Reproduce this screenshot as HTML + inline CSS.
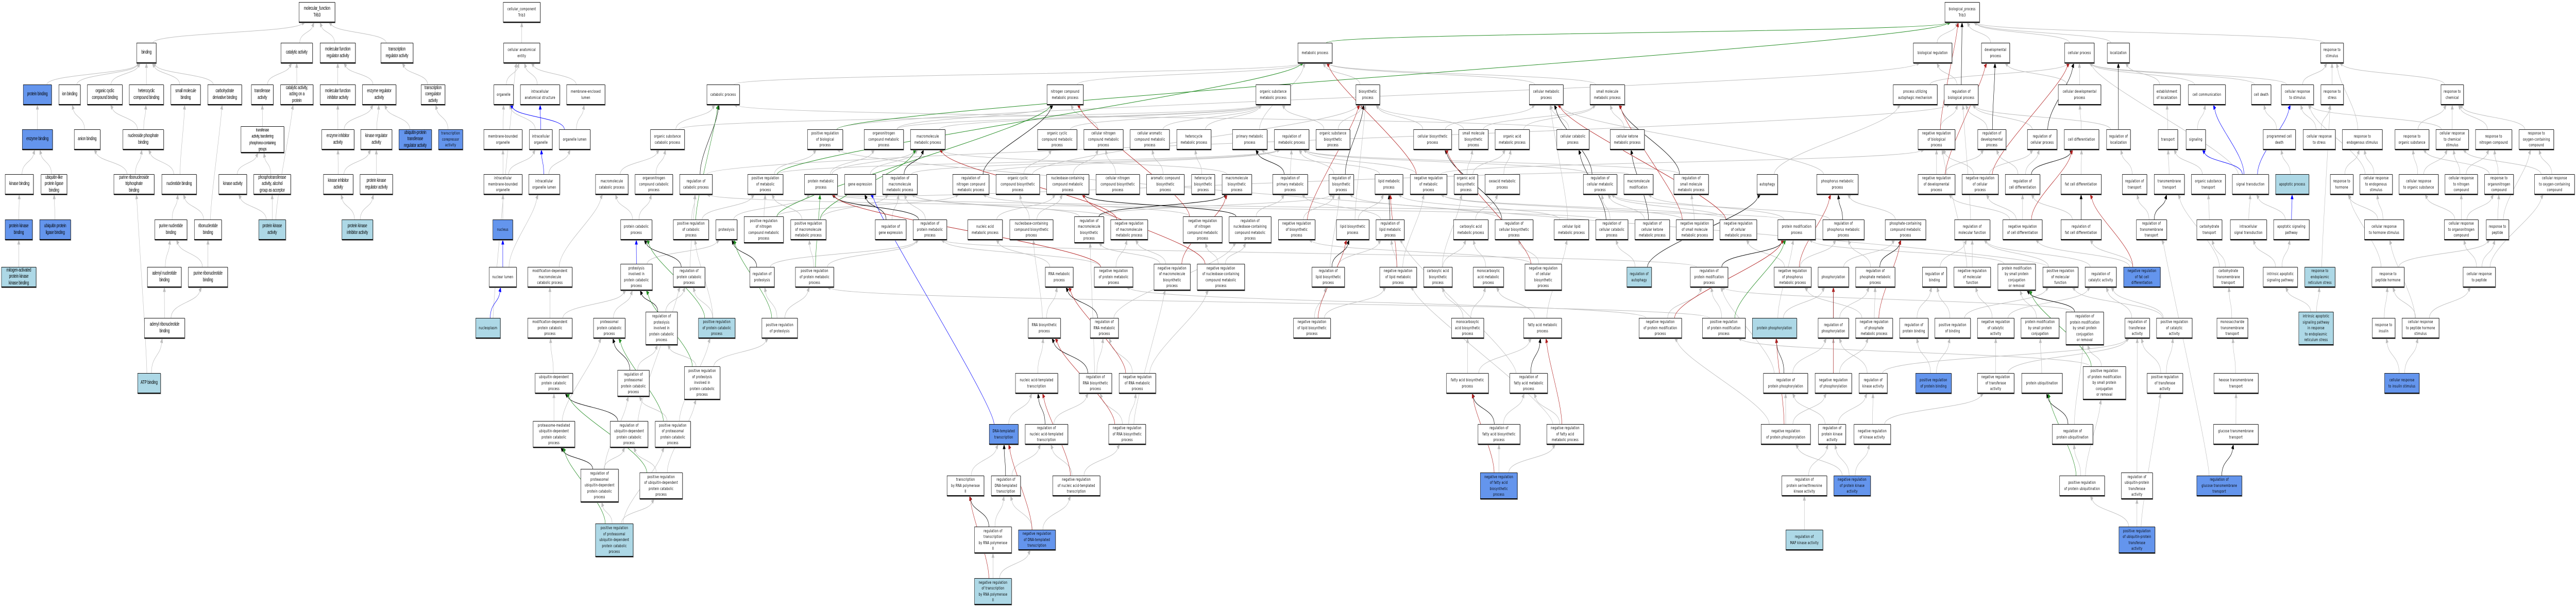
<!DOCTYPE html>
<html><head><meta charset="utf-8">
<style>
html,body{margin:0;padding:0;background:#fff;overflow:hidden;}
#w{position:relative;width:7680px;height:1178px;overflow:hidden;background:#fff;transform-origin:0 0;}
svg{position:absolute;left:0;top:0;overflow:hidden;}
.n{position:absolute;box-sizing:border-box;border:1px solid #111;border-bottom-width:2px;box-shadow:1px 1px 0 #888;background:#fff;
font:8px/11.5px "DejaVu Sans",sans-serif;letter-spacing:0.4px;text-align:center;display:flex;align-items:center;justify-content:center;white-space:nowrap;overflow:hidden;height:40px;color:#000;}
.mf{font:10px/12.5px "Liberation Sans",sans-serif;letter-spacing:-0.3px;}
.b{background:#6495ED;}
.lb{background:#ADD8E6;}
.h4{height:52px;}
.h5{height:65px;}
</style></head><body><div id="w">
<svg id="s" width="7680" height="1178" viewBox="0 0 7680 1178"></svg>
<!-- MF -->
<div class="n mf" id="mf" style="left:891px;top:4px;width:108px">molecular_function<br>Trib3</div>
<div class="n mf" id="binding" style="left:407px;top:83px;width:59px">binding</div>
<div class="n mf" id="catal" style="left:837px;top:83px;width:95px">catalytic activity</div>
<div class="n mf" id="mfreg" style="left:954px;top:83px;width:106px">molecular function<br>regulator activity</div>
<div class="n mf" id="treg" style="left:1135px;top:83px;width:97px">transcription<br>regulator activity</div>
<div class="n mf b" id="pb" style="left:69px;top:164px;width:85px">protein binding</div>
<div class="n mf" id="ionb" style="left:175px;top:164px;width:65px">ion binding</div>
<div class="n mf" id="occb" style="left:260px;top:164px;width:105px">organic cyclic<br>compound binding</div>
<div class="n mf" id="hcb" style="left:385px;top:164px;width:103px">heterocyclic<br>compound binding</div>
<div class="n mf" id="smb" style="left:509px;top:164px;width:89px">small molecule<br>binding</div>
<div class="n mf" id="cdb" style="left:619px;top:164px;width:102px">carbohydrate<br>derivative binding</div>
<div class="n mf" id="transf" style="left:749px;top:164px;width:66px">transferase<br>activity</div>
<div class="n mf" id="catp" style="left:836px;top:164px;width:98px">catalytic activity,<br>acting on a<br>protein</div>
<div class="n mf" id="mfinh" style="left:954px;top:164px;width:106px">molecular function<br>inhibitor activity</div>
<div class="n mf" id="enzreg" style="left:1080px;top:164px;width:101px">enzyme regulator<br>activity</div>
<div class="n mf" id="tcoreg" style="left:1255px;top:164px;width:72px">transcription<br>coregulator<br>activity</div>
<div class="n mf b" id="enzb" style="left:66px;top:251px;width:91px">enzyme binding</div>
<div class="n mf" id="anb" style="left:221px;top:251px;width:78px">anion binding</div>
<div class="n mf" id="npb" style="left:366px;top:251px;width:122px">nucleoside phosphate<br>binding</div>
<div class="n mf h4" id="tptp" style="left:718px;top:245px;width:129px">transferase<br>activity, transferring<br>phosphorus-containing<br>groups</div>
<div class="n mf" id="enzinh" style="left:959px;top:251px;width:97px">enzyme inhibitor<br>activity</div>
<div class="n mf" id="kinreg" style="left:1075px;top:251px;width:94px">kinase regulator<br>activity</div>
<div class="n mf b" id="uptr" style="left:1189px;top:251px;width:98px">ubiquitin-protein<br>transferase<br>regulator activity</div>
<div class="n b" id="tcorep" style="left:1307px;top:251px;width:73px">transcription<br>corepressor<br>activity</div>
<div class="n mf" id="kinb" style="left:15px;top:338px;width:85px">kinase binding</div>
<div class="n mf" id="ulplb" style="left:122px;top:338px;width:78px">ubiquitin-like<br>protein ligase<br>binding</div>
<div class="n mf" id="prtpb" style="left:339px;top:338px;width:121px">purine ribonucleoside<br>triphosphate<br>binding</div>
<div class="n mf" id="nucb" style="left:482px;top:338px;width:104px">nucleotide binding</div>
<div class="n mf" id="kina" style="left:652px;top:338px;width:84px">kinase activity</div>
<div class="n mf" id="phtr" style="left:756px;top:338px;width:111px">phosphotransferase<br>activity, alcohol<br>group as acceptor</div>
<div class="n mf" id="kininh" style="left:964px;top:338px;width:89px">kinase inhibitor<br>activity</div>
<div class="n mf" id="pkreg" style="left:1073px;top:338px;width:98px">protein kinase<br>regulator activity</div>
<div class="n mf b" id="pkb" style="left:15px;top:426px;width:82px">protein kinase<br>binding</div>
<div class="n mf b" id="uplb" style="left:118px;top:426px;width:93px">ubiquitin protein<br>ligase binding</div>
<div class="n mf" id="pnb" style="left:461px;top:426px;width:97px">purine nucleotide<br>binding</div>
<div class="n mf" id="rnb" style="left:579px;top:426px;width:82px">ribonucleotide<br>binding</div>
<div class="n mf lb" id="pka" style="left:771px;top:426px;width:81px">protein kinase<br>activity</div>
<div class="n mf lb" id="pkia" style="left:1019px;top:426px;width:93px">protein kinase<br>inhibitor activity</div>
<div class="n mf lb" id="mapkkb" style="left:4px;top:518px;width:104px">mitogen-activated<br>protein kinase<br>kinase binding</div>
<div class="n mf" id="adnb" style="left:439px;top:518px;width:102px">adenyl nucleotide<br>binding</div>
<div class="n mf" id="prnb" style="left:561px;top:518px;width:118px">purine ribonucleotide<br>binding</div>
<div class="n mf" id="arnb" style="left:430px;top:617px;width:121px">adenyl ribonucleotide<br>binding</div>
<div class="n mf lb" id="atp" style="left:410px;top:724px;width:69px">ATP binding</div>
<!-- CC -->
<div class="n" id="cc" style="left:1500px;top:4px;width:111px">cellular_component<br>Trib3</div>
<div class="n" id="cae" style="left:1501px;top:83px;width:109px">cellular anatomical<br>entity</div>
<div class="n" id="org" style="left:1472px;top:164px;width:59px">organelle</div>
<div class="n" id="ias" style="left:1551px;top:164px;width:118px">intracellular<br>anatomical structure</div>
<div class="n" id="mel" style="left:1689px;top:164px;width:115px">membrane-enclosed<br>lumen</div>
<div class="n" id="mbo" style="left:1442px;top:251px;width:115px">membrane-bounded<br>organelle</div>
<div class="n" id="io" style="left:1578px;top:251px;width:69px">intracellular<br>organelle</div>
<div class="n" id="ol" style="left:1667px;top:251px;width:93px">organelle lumen</div>
<div class="n" id="imbo" style="left:1442px;top:338px;width:115px">intracellular<br>membrane-bounded<br>organelle</div>
<div class="n" id="iol" style="left:1576px;top:338px;width:93px">intracellular<br>organelle lumen</div>
<div class="n b" id="nucl" style="left:1469px;top:426px;width:60px">nucleus</div>
<div class="n" id="nl" style="left:1458px;top:518px;width:82px">nuclear lumen</div>
<div class="n lb" id="npl" style="left:1418px;top:617px;width:74px">nucleoplasm</div>
<!-- BP catabolic -->
<div class="n" id="catab" style="left:2107px;top:164px;width:98px">catabolic process</div>
<div class="n" id="osc" style="left:1939px;top:251px;width:102px">organic substance<br>catabolic process</div>
<div class="n" id="mcp" style="left:1775px;top:338px;width:98px">macromolecule<br>catabolic process</div>
<div class="n" id="onc" style="left:1893px;top:338px;width:113px">organonitrogen<br>compound catabolic<br>process</div>
<div class="n" id="pcp" style="left:1850px;top:426px;width:94px">protein catabolic<br>process</div>
<div class="n h4" id="pipcp" style="left:1850px;top:512px;width:95px">proteolysis<br>involved in<br>protein catabolic<br>process</div>
<div class="n" id="mdmcp" style="left:1573px;top:518px;width:133px">modification-dependent<br>macromolecule<br>catabolic process</div>
<div class="n" id="mdpcp" style="left:1573px;top:617px;width:133px">modification-dependent<br>protein catabolic<br>process</div>
<div class="n" id="pap" style="left:1769px;top:617px;width:95px">proteasomal<br>protein catabolic<br>process</div>
<div class="n h5" id="rpipcp" style="left:1925px;top:605px;width:95px">regulation of<br>proteolysis<br>involved in<br>protein catabolic<br>process</div>
<div class="n" id="udpcp" style="left:1595px;top:724px;width:113px">ubiquitin-dependent<br>protein catabolic<br>process</div>
<div class="n h4" id="rppcp" style="left:1841px;top:718px;width:95px">regulation of<br>proteasomal<br>protein catabolic<br>process</div>
<div class="n h4" id="pmud" style="left:1589px;top:817px;width:125px">proteasome-mediated<br>ubiquitin-dependent<br>protein catabolic<br>process</div>
<div class="n h4" id="rudpcp" style="left:1819px;top:817px;width:113px">regulation of<br>ubiquitin-dependent<br>protein catabolic<br>process</div>
<div class="n h5" id="rpud" style="left:1731px;top:910px;width:113px">regulation of<br>proteasomal<br>ubiquitin-dependent<br>protein catabolic<br>process</div>
<div class="n h4" id="prud" style="left:1907px;top:917px;width:128px">positive regulation<br>of ubiquitin-dependent<br>protein catabolic<br>process</div>
<div class="n h5 lb" id="prpud" style="left:1775px;top:1016px;width:113px">positive regulation<br>of proteasomal<br>ubiquitin-dependent<br>protein catabolic<br>process</div>
<div class="n" id="prbp" style="left:2407px;top:251px;width:106px">positive regulation<br>of biological<br>process</div>
<div class="n" id="rcp" style="left:2026px;top:338px;width:98px">regulation of<br>catabolic process</div>
<div class="n" id="prmp" style="left:2229px;top:338px;width:106px">positive regulation<br>of metabolic<br>process</div>
<div class="n" id="pmp" style="left:2398px;top:338px;width:99px">protein metabolic<br>process</div>
<div class="n" id="ge" style="left:2518px;top:338px;width:93px">gene expression</div>
<div class="n" id="prcp" style="left:2007px;top:426px;width:106px">positive regulation<br>of catabolic<br>process</div>
<div class="n" id="ptl" style="left:2134px;top:426px;width:64px">proteolysis</div>
<div class="n h4" id="prncmp" style="left:2218px;top:420px;width:118px">positive regulation<br>of nitrogen<br>compound metabolic<br>process</div>
<div class="n" id="prmmp" style="left:2357px;top:426px;width:106px">positive regulation<br>of macromolecule<br>metabolic process</div>
<div class="n" id="rpcp" style="left:2007px;top:518px;width:95px">regulation of<br>protein catabolic<br>process</div>
<div class="n" id="rptl" style="left:2235px;top:518px;width:74px">regulation of<br>proteolysis</div>
<div class="n" id="prpmp" style="left:2371px;top:518px;width:115px">positive regulation<br>of protein metabolic<br>process</div>
<div class="n lb" id="prpcp" style="left:2082px;top:617px;width:110px">positive regulation<br>of protein catabolic<br>process</div>
<div class="n" id="prptl" style="left:2271px;top:617px;width:107px">positive regulation<br>of proteolysis</div>
<div class="n h5" id="prpipcp" style="left:2040px;top:711px;width:107px">positive regulation<br>of proteolysis<br>involved in<br>protein catabolic<br>process</div>
<div class="n h4" id="prppcp" style="left:1953px;top:817px;width:106px">positive regulation<br>of proteasomal<br>protein catabolic<br>process</div>
<!-- BP metabolic / transcription -->
<div class="n" id="ncmp" style="left:3121px;top:164px;width:109px">nitrogen compound<br>metabolic process</div>
<div class="n" id="onmp" style="left:2576px;top:251px;width:118px">organonitrogen<br>compound metabolic<br>process</div>
<div class="n" id="mmp" style="left:2714px;top:251px;width:104px">macromolecule<br>metabolic process</div>
<div class="n" id="occmp" style="left:3093px;top:251px;width:118px">organic cyclic<br>compound metabolic<br>process</div>
<div class="n" id="rmmp" style="left:2631px;top:338px;width:104px">regulation of<br>macromolecule<br>metabolic process</div>
<div class="n" id="rncmp" style="left:2840px;top:338px;width:109px">regulation of<br>nitrogen compound<br>metabolic process</div>
<div class="n" id="occbp" style="left:2969px;top:338px;width:131px">organic cyclic<br>compound biosynthetic<br>process</div>
<div class="n" id="nbcmp" style="left:3120px;top:338px;width:127px">nucleobase-containing<br>compound metabolic<br>process</div>
<div class="n" id="rge" style="left:2609px;top:426px;width:93px">regulation of<br>gene expression</div>
<div class="n" id="rpmp" style="left:2722px;top:426px;width:101px">regulation of<br>protein metabolic<br>process</div>
<div class="n" id="nam" style="left:2885px;top:426px;width:104px">nucleic acid<br>metabolic process</div>
<div class="n" id="nbcbp" style="left:3010px;top:426px;width:130px">nucleobase-containing<br>compound biosynthetic<br>process</div>
<div class="n h4" id="rmbp" style="left:3203px;top:420px;width:88px">regulation of<br>macromolecule<br>biosynthetic<br>process</div>
<div class="n" id="rnamp" style="left:3116px;top:518px;width:84px">RNA metabolic<br>process</div>
<div class="n" id="rnabp" style="left:3065px;top:617px;width:97px">RNA biosynthetic<br>process</div>
<div class="n" id="natt" style="left:3027px;top:724px;width:127px">nucleic acid-templated<br>transcription</div>
<div class="n" id="rrnabp" style="left:3217px;top:724px;width:98px">regulation of<br>RNA biosynthetic<br>process</div>
<div class="n b" id="dtt" style="left:2949px;top:823px;width:87px">DNA-templated<br>transcription</div>
<div class="n" id="rnatt" style="left:3056px;top:823px;width:128px">regulation of<br>nucleic acid-templated<br>transcription</div>
<div class="n" id="tbrp" style="left:2823px;top:923px;width:111px">transcription<br>by RNA polymerase<br>II</div>
<div class="n" id="rdtt" style="left:2955px;top:923px;width:88px">regulation of<br>DNA-templated<br>transcription</div>
<div class="n" id="nrnatt" style="left:3138px;top:923px;width:142px">negative regulation<br>of nucleic acid-templated<br>transcription</div>
<div class="n h4" id="rtbrp" style="left:2905px;top:1022px;width:111px">regulation of<br>transcription<br>by RNA polymerase<br>II</div>
<div class="n b" id="nrdtt" style="left:3036px;top:1028px;width:111px">negative regulation<br>of DNA-templated<br>transcription</div>
<div class="n h4 lb" id="nrtbrp" style="left:2905px;top:1122px;width:111px">negative regulation<br>of transcription<br>by RNA polymerase<br>II</div>
<div class="n" id="osm" style="left:3744px;top:164px;width:104px">organic substance<br>metabolic process</div>
<div class="n" id="cncmp" style="left:3231px;top:251px;width:118px">cellular nitrogen<br>compound metabolic<br>process</div>
<div class="n" id="camp" style="left:3369px;top:251px;width:118px">cellular aromatic<br>compound metabolic<br>process</div>
<div class="n" id="hmp" style="left:3508px;top:251px;width:103px">heterocycle<br>metabolic process</div>
<div class="n" id="prim" style="left:3674px;top:251px;width:104px">primary metabolic<br>process</div>
<div class="n" id="rmp" style="left:3799px;top:251px;width:104px">regulation of<br>metabolic process</div>
<div class="n" id="cncbp" style="left:3267px;top:338px;width:131px">cellular nitrogen<br>compound biosynthetic<br>process</div>
<div class="n" id="acbp" style="left:3418px;top:338px;width:113px">aromatic compound<br>biosynthetic<br>process</div>
<div class="n" id="hbp" style="left:3552px;top:338px;width:70px">heterocycle<br>biosynthetic<br>process</div>
<div class="n" id="mbp" style="left:3643px;top:338px;width:89px">macromolecule<br>biosynthetic<br>process</div>
<div class="n" id="rprim" style="left:3794px;top:338px;width:105px">regulation of<br>primary metabolic<br>process</div>
<div class="n" id="nrmmp" style="left:3311px;top:426px;width:111px">negative regulation<br>of macromolecule<br>metabolic process</div>
<div class="n h4" id="nrncmp" style="left:3527px;top:420px;width:117px">negative regulation<br>of nitrogen<br>compound metabolic<br>process</div>
<div class="n h4" id="rnbcmp" style="left:3664px;top:420px;width:126px">regulation of<br>nucleobase-containing<br>compound metabolic<br>process</div>
<div class="n" id="nrbp" style="left:3811px;top:426px;width:110px">negative regulation<br>of biosynthetic<br>process</div>
<div class="n" id="nrpmp" style="left:3262px;top:518px;width:116px">negative regulation<br>of protein metabolic<br>process</div>
<div class="n h4" id="nrmbp" style="left:3440px;top:512px;width:109px">negative regulation<br>of macromolecule<br>biosynthetic<br>process</div>
<div class="n h4" id="nrnbcmp" style="left:3569px;top:512px;width:142px">negative regulation<br>of nucleobase-containing<br>compound metabolic<br>process</div>
<div class="n" id="rrnamp" style="left:3250px;top:617px;width:85px">regulation of<br>RNA metabolic<br>process</div>
<div class="n" id="nrlbp" style="left:3856px;top:617px;width:111px">negative regulation<br>of lipid biosynthetic<br>process</div>
<div class="n" id="nrrnamp" style="left:3336px;top:724px;width:110px">negative regulation<br>of RNA metabolic<br>process</div>
<div class="n" id="nrrnabp" style="left:3305px;top:823px;width:111px">negative regulation<br>of RNA biosynthetic<br>process</div>
<div class="n" id="met" style="left:3869px;top:83px;width:103px">metabolic process</div>
<div class="n" id="bios" style="left:4042px;top:164px;width:72px">biosynthetic<br>process</div>
<div class="n" id="osbp" style="left:3923px;top:251px;width:102px">organic substance<br>biosynthetic<br>process</div>
<div class="n" id="cbp" style="left:4214px;top:251px;width:114px">cellular biosynthetic<br>process</div>
<div class="n" id="smbp" style="left:4349px;top:251px;width:88px">small molecule<br>biosynthetic<br>process</div>
<div class="n" id="oamp" style="left:4457px;top:251px;width:103px">organic acid<br>metabolic process</div>
<div class="n" id="rbp" style="left:3962px;top:338px;width:74px">regulation of<br>biosynthetic<br>process</div>
<div class="n" id="lmp" style="left:4099px;top:338px;width:84px">lipid metabolic<br>process</div>
<div class="n" id="nrmp" style="left:4204px;top:338px;width:110px">negative regulation<br>of metabolic<br>process</div>
<div class="n" id="oabp" style="left:4335px;top:338px;width:71px">organic acid<br>biosynthetic<br>process</div>
<div class="n" id="oxmp" style="left:4427px;top:338px;width:104px">oxoacid metabolic<br>process</div>
<div class="n" id="lbp" style="left:3984px;top:426px;width:98px">lipid biosynthetic<br>process</div>
<div class="n" id="rlmp" style="left:4102px;top:426px;width:85px">regulation of<br>lipid metabolic<br>process</div>
<div class="n" id="camp2" style="left:4333px;top:426px;width:104px">carboxylic acid<br>metabolic process</div>
<div class="n" id="rcbp" style="left:4457px;top:426px;width:114px">regulation of<br>cellular biosynthetic<br>process</div>
<div class="n" id="rlbp" style="left:3911px;top:518px;width:98px">regulation of<br>lipid biosynthetic<br>process</div>
<div class="n" id="nrlmp" style="left:4113px;top:518px;width:111px">negative regulation<br>of lipid metabolic<br>process</div>
<div class="n" id="cabp" style="left:4244px;top:518px;width:86px">carboxylic acid<br>biosynthetic<br>process</div>
<div class="n" id="mamp" style="left:4392px;top:518px;width:91px">monocarboxylic<br>acid metabolic<br>process</div>
<div class="n" id="mabp" style="left:4327px;top:617px;width:97px">monocarboxylic<br>acid biosynthetic<br>process</div>
<div class="n" id="fabp" style="left:4312px;top:724px;width:126px">fatty acid biosynthetic<br>process</div>
<div class="n" id="rfabp" style="left:4406px;top:823px;width:126px">regulation of<br>fatty acid biosynthetic<br>process</div>
<div class="n h4 b" id="nrfabp" style="left:4413px;top:917px;width:111px">negative regulation<br>of fatty acid<br>biosynthetic<br>process</div>
<div class="n" id="cmp" style="left:4559px;top:164px;width:102px">cellular metabolic<br>process</div>
<div class="n" id="smmp" style="left:4740px;top:164px;width:104px">small molecule<br>metabolic process</div>
<div class="n" id="ccp" style="left:4641px;top:251px;width:97px">cellular catabolic<br>process</div>
<div class="n" id="ckmp" style="left:4800px;top:251px;width:103px">cellular ketone<br>metabolic process</div>
<div class="n" id="rcmp" style="left:4720px;top:338px;width:101px">regulation of<br>cellular metabolic<br>process</div>
<div class="n" id="mmod" style="left:4841px;top:338px;width:88px">macromolecule<br>modification</div>
<div class="n" id="rsmmp" style="left:4990px;top:338px;width:104px">regulation of<br>small molecule<br>metabolic process</div>
<div class="n" id="clmp" style="left:4633px;top:426px;width:104px">cellular lipid<br>metabolic process</div>
<div class="n" id="rccp" style="left:4757px;top:426px;width:97px">regulation of<br>cellular catabolic<br>process</div>
<div class="n" id="rckmp" style="left:4874px;top:426px;width:104px">regulation of<br>cellular ketone<br>metabolic process</div>
<div class="n" id="nrsmmp" style="left:4997px;top:426px;width:111px">negative regulation<br>of small molecule<br>metabolic process</div>
<div class="n" id="nrcmp" style="left:5127px;top:426px;width:111px">negative regulation<br>of cellular<br>metabolic process</div>
<div class="n h4" id="nrcbp" style="left:4546px;top:512px;width:110px">negative regulation<br>of cellular<br>biosynthetic<br>process</div>
<div class="n lb" id="rauto" style="left:4850px;top:518px;width:74px">regulation of<br>autophagy</div>
<div class="n" id="rpmod" style="left:5039px;top:518px;width:113px">regulation of<br>protein modification<br>process</div>
<div class="n" id="famp" style="left:4542px;top:617px;width:114px">fatty acid metabolic<br>process</div>
<div class="n" id="nrpmod" style="left:4886px;top:617px;width:128px">negative regulation<br>of protein modification<br>process</div>
<div class="n" id="prpmod" style="left:5075px;top:617px;width:129px">positive regulation<br>of protein modification<br>process</div>
<div class="n" id="rfamp" style="left:4501px;top:724px;width:113px">regulation of<br>fatty acid metabolic<br>process</div>
<div class="n" id="nrfamp" style="left:4611px;top:823px;width:111px">negative regulation<br>of fatty acid<br>metabolic process</div>
<div class="n" id="breg" style="left:5704px;top:83px;width:116px">biological regulation</div>
<div class="n" id="puam" style="left:5644px;top:164px;width:132px">process utilizing<br>autophagic mechanism</div>
<div class="n" id="nrbpr" style="left:5718px;top:251px;width:111px">negative regulation<br>of biological<br>process</div>
<div class="n" id="nrdp" style="left:5718px;top:338px;width:111px">negative regulation<br>of developmental<br>process</div>
<div class="n" id="auto" style="left:5238px;top:338px;width:62px">autophagy</div>
<div class="n" id="phmp" style="left:5416px;top:338px;width:124px">phosphorus metabolic<br>process</div>
<div class="n" id="pmod" style="left:5300px;top:426px;width:113px">protein modification<br>process</div>
<div class="n" id="rphmp" style="left:5434px;top:426px;width:124px">regulation of<br>phosphorus metabolic<br>process</div>
<div class="n" id="pcmp" style="left:5620px;top:426px;width:122px">phosphate-containing<br>compound metabolic<br>process</div>
<div class="n" id="nrphmp" style="left:5289px;top:518px;width:111px">negative regulation<br>of phosphorus<br>metabolic process</div>
<div class="n" id="phos" style="left:5420px;top:518px;width:92px">phosphorylation</div>
<div class="n" id="rpm" style="left:5532px;top:518px;width:118px">regulation of<br>phosphate metabolic<br>process</div>
<div class="n" id="rbind" style="left:5731px;top:518px;width:73px">regulation of<br>binding</div>
<div class="n lb" id="pp" style="left:5224px;top:617px;width:133px">protein phosphorylation</div>
<div class="n" id="rphos" style="left:5420px;top:617px;width:92px">regulation of<br>phosphorylation</div>
<div class="n" id="nrpm" style="left:5532px;top:617px;width:111px">negative regulation<br>of phosphate<br>metabolic process</div>
<div class="n" id="rpb" style="left:5663px;top:617px;width:86px">regulation of<br>protein binding</div>
<div class="n" id="prbind" style="left:5768px;top:617px;width:107px">positive regulation<br>of binding</div>
<div class="n" id="rpp" style="left:5257px;top:724px;width:133px">regulation of<br>protein phosphorylation</div>
<div class="n" id="nrphos" style="left:5411px;top:724px;width:110px">negative regulation<br>of phosphorylation</div>
<div class="n" id="rka" style="left:5542px;top:724px;width:85px">regulation of<br>kinase activity</div>
<div class="n b" id="prpb" style="left:5711px;top:724px;width:107px">positive regulation<br>of protein binding</div>
<div class="n" id="nrpp" style="left:5250px;top:823px;width:148px">negative regulation<br>of protein phosphorylation</div>
<div class="n" id="rpka" style="left:5421px;top:823px;width:82px">regulation of<br>protein kinase<br>activity</div>
<div class="n" id="nrka" style="left:5527px;top:823px;width:110px">negative regulation<br>of kinase activity</div>
<div class="n" id="rpstka" style="left:5312px;top:923px;width:135px">regulation of<br>protein serine/threonine<br>kinase activity</div>
<div class="n b" id="nrpka" style="left:5467px;top:923px;width:110px">negative regulation<br>of protein kinase<br>activity</div>
<div class="n lb" id="rmapk" style="left:5324px;top:1028px;width:111px">regulation of<br>MAP kinase activity</div>
<div class="n" id="bp" style="left:5798px;top:4px;width:104px">biological_process<br>Trib3</div>
<div class="n" id="dp" style="left:5907px;top:83px;width:85px">developmental<br>process</div>
<div class="n" id="cp" style="left:6155px;top:83px;width:89px">cellular process</div>
<div class="n" id="loc" style="left:6282px;top:83px;width:67px">localization</div>
<div class="n" id="rbpr" style="left:5796px;top:164px;width:102px">regulation of<br>biological process</div>
<div class="n" id="cdp" style="left:6136px;top:164px;width:128px">cellular developmental<br>process</div>
<div class="n" id="rdp" style="left:5896px;top:251px;width:85px">regulation of<br>developmental<br>process</div>
<div class="n" id="rcpr" style="left:6044px;top:251px;width:89px">regulation of<br>cellular process</div>
<div class="n" id="celld" style="left:6154px;top:251px;width:104px">cell differentiation</div>
<div class="n" id="rloc" style="left:6280px;top:251px;width:72px">regulation of<br>localization</div>
<div class="n" id="nrcpr" style="left:5849px;top:338px;width:109px">negative regulation<br>of cellular<br>process</div>
<div class="n" id="rcd" style="left:5978px;top:338px;width:104px">regulation of<br>cell differentiation</div>
<div class="n" id="fcd" style="left:6144px;top:338px;width:121px">fat cell differentiation</div>
<div class="n" id="rtr" style="left:6327px;top:338px;width:74px">regulation of<br>transport</div>
<div class="n" id="rmf" style="left:5827px;top:426px;width:106px">regulation of<br>molecular function</div>
<div class="n" id="nrcd" style="left:5971px;top:426px;width:118px">negative regulation<br>of cell differentiation</div>
<div class="n" id="rfcd" style="left:6144px;top:426px;width:121px">regulation of<br>fat cell differentiation</div>
<div class="n" id="rtmt" style="left:6369px;top:426px;width:91px">regulation of<br>transmembrane<br>transport</div>
<div class="n" id="nrmf" style="left:5825px;top:518px;width:110px">negative regulation<br>of molecular<br>function</div>
<div class="n h4" id="pmsp" style="left:5956px;top:512px;width:113px">protein modification<br>by small protein<br>conjugation<br>or removal</div>
<div class="n" id="prmf" style="left:6090px;top:518px;width:106px">positive regulation<br>of molecular<br>function</div>
<div class="n" id="rcat" style="left:6216px;top:518px;width:94px">regulation of<br>catalytic activity</div>
<div class="n b" id="nrfcd" style="left:6331px;top:518px;width:110px">negative regulation<br>of fat cell<br>differentiation</div>
<div class="n" id="nrcat" style="left:5895px;top:617px;width:110px">negative regulation<br>of catalytic<br>activity</div>
<div class="n" id="pmspc" style="left:6025px;top:617px;width:114px">protein modification<br>by small protein<br>conjugation</div>
<div class="n h5" id="rpmsp" style="left:6159px;top:605px;width:113px">regulation of<br>protein modification<br>by small protein<br>conjugation<br>or removal</div>
<div class="n" id="rta" style="left:6335px;top:617px;width:74px">regulation of<br>transferase<br>activity</div>
<div class="n" id="prcat" style="left:6429px;top:617px;width:107px">positive regulation<br>of catalytic<br>activity</div>
<div class="n" id="nrta" style="left:5895px;top:724px;width:110px">negative regulation<br>of transferase<br>activity</div>
<div class="n" id="pu" style="left:6027px;top:724px;width:122px">protein ubiquitination</div>
<div class="n h5" id="prpmsp" style="left:6210px;top:711px;width:128px">positive regulation<br>of protein modification<br>by small protein<br>conjugation<br>or removal</div>
<div class="n" id="prta" style="left:6401px;top:724px;width:107px">positive regulation<br>of transferase<br>activity</div>
<div class="n" id="rpu" style="left:6118px;top:823px;width:122px">regulation of<br>protein ubiquitination</div>
<div class="n" id="prpu" style="left:6140px;top:923px;width:135px">positive regulation<br>of protein ubiquitination</div>
<div class="n h4" id="rupta" style="left:6324px;top:917px;width:94px">regulation of<br>ubiquitin-protein<br>transferase<br>activity</div>
<div class="n h4 b" id="prupta" style="left:6317px;top:1022px;width:108px">positive regulation<br>of ubiquitin-protein<br>transferase<br>activity</div>
<div class="n" id="rs" style="left:6918px;top:83px;width:69px">response to<br>stimulus</div>
<div class="n" id="eloc" style="left:6420px;top:164px;width:81px">establishment<br>of localization</div>
<div class="n" id="ccom" style="left:6524px;top:164px;width:111px">cell communication</div>
<div class="n" id="cdeath" style="left:6712px;top:164px;width:59px">cell death</div>
<div class="n" id="crs" style="left:6801px;top:164px;width:97px">cellular response<br>to stimulus</div>
<div class="n" id="rstr" style="left:6919px;top:164px;width:68px">response to<br>stress</div>
<div class="n" id="trans" style="left:6434px;top:251px;width:59px">transport</div>
<div class="n" id="sig" style="left:6517px;top:251px;width:59px">signaling</div>
<div class="n" id="pcd" style="left:6747px;top:251px;width:97px">programmed cell<br>death</div>
<div class="n" id="crstr" style="left:6866px;top:251px;width:97px">cellular response<br>to stress</div>
<div class="n" id="res" style="left:6983px;top:251px;width:120px">response to<br>endogenous stimulus</div>
<div class="n" id="tmt" style="left:6422px;top:338px;width:91px">transmembrane<br>transport</div>
<div class="n" id="ost" style="left:6533px;top:338px;width:102px">organic substance<br>transport</div>
<div class="n" id="st" style="left:6655px;top:338px;width:109px">signal transduction</div>
<div class="n lb" id="ap" style="left:6784px;top:338px;width:100px">apoptotic process</div>
<div class="n" id="rh" style="left:6947px;top:338px;width:69px">response to<br>hormone</div>
<div class="n" id="cres" style="left:7035px;top:338px;width:98px">cellular response<br>to endogenous<br>stimulus</div>
<div class="n" id="ct" style="left:6549px;top:426px;width:76px">carbohydrate<br>transport</div>
<div class="n" id="ist" style="left:6649px;top:426px;width:109px">intracellular<br>signal transduction</div>
<div class="n" id="asp" style="left:6778px;top:426px;width:107px">apoptotic signaling<br>pathway</div>
<div class="n" id="crh" style="left:7049px;top:426px;width:118px">cellular response<br>to hormone stimulus</div>
<div class="n" id="ctt" style="left:6598px;top:518px;width:91px">carbohydrate<br>transmembrane<br>transport</div>
<div class="n" id="iasp" style="left:6747px;top:518px;width:103px">intrinsic apoptotic<br>signaling pathway</div>
<div class="n lb" id="rers" style="left:6871px;top:518px;width:91px">response to<br>endoplasmic<br>reticulum stress</div>
<div class="n" id="rph" style="left:7071px;top:518px;width:97px">response to<br>peptide hormone</div>
<div class="n" id="mtt" style="left:6609px;top:617px;width:93px">monosaccharide<br>transmembrane<br>transport</div>
<div class="n h5 lb" id="iasper" style="left:6853px;top:605px;width:104px">intrinsic apoptotic<br>signaling pathway<br>in response<br>to endoplasmic<br>reticulum stress</div>
<div class="n" id="htt" style="left:6600px;top:724px;width:133px">hexose transmembrane<br>transport</div>
<div class="n" id="gtt" style="left:6599px;top:823px;width:134px">glucose transmembrane<br>transport</div>
<div class="n b" id="rgtt" style="left:6549px;top:923px;width:135px">regulation of<br>glucose transmembrane<br>transport</div>
<div class="n" id="rchem" style="left:7277px;top:164px;width:68px">response to<br>chemical</div>
<div class="n" id="ros" style="left:7140px;top:251px;width:102px">response to<br>organic substance</div>
<div class="n" id="crcs" style="left:7262px;top:251px;width:98px">cellular response<br>to chemical<br>stimulus</div>
<div class="n" id="rnc" style="left:7380px;top:251px;width:109px">response to<br>nitrogen compound</div>
<div class="n" id="roc" style="left:7510px;top:251px;width:104px">response to<br>oxygen-containing<br>compound</div>
<div class="n" id="cros" style="left:7152px;top:338px;width:118px">cellular response<br>to organic substance</div>
<div class="n" id="crnc" style="left:7289px;top:338px;width:98px">cellular response<br>to nitrogen<br>compound</div>
<div class="n" id="ronc" style="left:7407px;top:338px;width:87px">response to<br>organonitrogen<br>compound</div>
<div class="n" id="croc" style="left:7556px;top:338px;width:120px">cellular response<br>to oxygen-containing<br>compound</div>
<div class="n" id="cronc" style="left:7287px;top:426px;width:102px">cellular response<br>to organonitrogen<br>compound</div>
<div class="n" id="rpep" style="left:7412px;top:426px;width:68px">response to<br>peptide</div>
<div class="n" id="crpep" style="left:7343px;top:518px;width:97px">cellular response<br>to peptide</div>
<div class="n" id="rins" style="left:7072px;top:617px;width:69px">response to<br>insulin</div>
<div class="n" id="crph" style="left:7161px;top:617px;width:111px">cellular response<br>to peptide hormone<br>stimulus</div>
<div class="n b" id="crins" style="left:7109px;top:724px;width:104px">cellular response<br>to insulin stimulus</div>
</div>
<script>
(function(){
var E="binding mf;catal mf;mfreg mf;treg mf;pb binding;ionb binding;occb binding;hcb binding;smb binding;cdb binding;transf catal;catp catal;mfinh mfreg;enzreg mfreg;tcoreg treg;tcorep tcoreg;enzb pb;anb ionb;npb occb;npb hcb;tptp transf;enzinh mfinh;enzinh enzreg;kinreg enzreg;uptr enzreg;kinb enzb;ulplb enzb;prtpb anb;prtpb npb;nucb npb;nucb smb;kina tptp;phtr tptp;kininh enzinh;kininh kinreg;pkreg kinreg;pkb kinb;uplb ulplb;pnb nucb;rnb nucb;rnb cdb;pka kina;pka phtr;pka catp;pkia kininh;pkia pkreg;mapkkb pkb;adnb pnb;prnb pnb;prnb rnb;arnb adnb;arnb prnb;atp arnb;atp prtpb;"+
"cae cc;org cae;ias cae;mel cae;mbo org;io org;io ias B;ol mel;ol org B;imbo mbo;imbo io;iol io B;iol ol;nucl imbo;nl nucl B;nl iol;npl nl B;npl cae;"+
"catab met;osc catab;osc osm;mcp osc;onc osc;pcp mcp;pcp onc;pipcp pcp B;pipcp ptl;mdmcp mcp;mdpcp mdmcp;mdpcp pipcp;pap pipcp;udpcp mdpcp;pmud udpcp;pmud pap;rpipcp pipcp k;rpipcp rpcp;rppcp pap k;rppcp rpipcp;rudpcp udpcp k;rudpcp rpcp;rpud pmud k;rpud rppcp;rpud rudpcp;prud udpcp G;prud rudpcp;prud prpipcp;prpud pmud G;prpud rpud;prpud prud;prpud prppcp;rcp catab k;rcp rbpr;prcp catab G;prcp rcp;prcp prmp;ptl pmp;rpcp pcp k;rpcp rcp;rptl ptl k;rptl rpmp;prpcp rpcp;prpcp prcp;prpcp pcp G;prptl ptl G;prptl rptl;prptl prpmp;prpipcp rpipcp;prpipcp prptl;prpipcp pipcp G;prppcp rppcp;prppcp pap G;prppcp prpcp;prbp bp G;prbp breg;prmp met G;prmp prbp;prmp rmp;prncmp ncmp G;prncmp prmp;prncmp rncmp;prmmp mmp G;prmmp prmp;prmmp rmmp;prpmp pmp G;prpmp prmmp;prpmp rpmp;pmp mmp;pmp onmp;ge mmp;onmp ncmp;onmp osm;mmp osm;rmmp mmp k;rmmp rmp;rncmp ncmp k;rncmp rmp;rge ge k;rge rmmp;rpmp pmp k;rpmp rmmp;ncmp met;occmp osm;occbp occmp;occbp bios;nbcmp cncmp;nam nbcmp;nbcbp nbcmp;nbcbp occbp;rnamp nam;rnabp rnamp;rnabp nbcbp;natt rnabp;dtt natt;dtt ge B;tbrp dtt;rnatt natt k;rnatt rrnabp;rdtt dtt k;rdtt rnatt;rtbrp tbrp k;rtbrp rdtt;nrdtt dtt R;nrdtt rdtt;nrdtt nrnatt;nrnatt natt R;nrnatt rnatt;nrnatt nrrnabp;nrtbrp tbrp R;nrtbrp rtbrp;nrtbrp nrdtt;rmbp mbp k;rmbp rmmp;rmbp rbp;"+
"cncmp ncmp;camp osm;hmp osm;prim met;cncbp cncmp;acbp camp;hbp hmp;mbp mmp;rprim prim k;rprim rmp;nrmmp mmp R;nrmmp rmmp;nrncmp ncmp R;nrncmp rncmp;rnbcmp nbcmp k;rnbcmp rprim;nrbp bios R;nrbp rbp;nrpmp nrmmp;nrpmp rpmp;nrpmp pmp R;nrmbp mbp R;nrmbp nrmmp;nrmbp rmbp;nrnbcmp nbcmp R;nrnbcmp rnbcmp;nrnbcmp nrncmp;rrnamp rnamp k;rrnamp rnbcmp;rrnabp rnabp k;rrnabp rrnamp;rrnabp rmbp;nrrnamp rnamp R;nrrnamp rrnamp;nrrnamp nrnbcmp;nrrnabp rnabp R;nrrnabp rrnabp;nrrnabp nrrnamp;nrrnabp nrmbp;"+
"met bp G;bios met;osbp bios;osbp osm;cbp bios;cbp cmp;smbp bios;smbp smmp;oamp smmp;rbp bios k;rbp rmp;lmp prim;nrmp met R;nrmp rmp;nrmp nrbpr;oabp oamp;oabp smbp;oxmp oamp;lbp lmp;lbp bios;rlmp lmp k;rlmp rprim;camp2 oxmp;rcbp cbp k;rcbp rbp;rlbp lbp k;rlbp rlmp;rlbp rbp;nrlmp lmp R;nrlmp rlmp;nrlmp nrmp;cabp camp2;cabp oabp;mamp camp2;nrlbp lbp R;nrlbp rlbp;nrlbp nrlmp;mabp mamp;mabp cabp;fabp mabp;fabp famp;rfabp fabp k;rfabp rfamp;nrfabp fabp R;nrfabp rfabp;nrfabp nrfamp;"+
"cmp met;smmp met;ccp cmp;ccp catab;ckmp smmp;rcmp cmp k;rcmp rmp;mmod pmp;rsmmp smmp k;rsmmp rmp;clmp cmp;clmp lmp;rccp ccp k;rccp rcmp;rccp rcp;rckmp ckmp k;rckmp rcmp;nrsmmp smmp R;nrsmmp rsmmp;nrsmmp nrmp;nrcmp cmp R;nrcmp rcmp;nrcmp nrmp;nrcbp cbp R;nrcbp rcbp;nrcbp nrbp;rauto auto k;rauto rccp;rpmod pmod k;rpmod rpmp;famp mamp;famp clmp;nrpmod pmod R;nrpmod rpmod;nrpmod nrpmp;prpmod pmod G;prpmod rpmod;prpmod prpmp;rfamp famp k;rfamp rlmp;nrfamp famp R;nrfamp rfamp;nrfamp nrlmp;"+
"auto puam;puam cp;phmp cmp;pmod mmod;pmod pmp;rphmp phmp k;rphmp rcmp;pcmp phmp;nrphmp phmp R;nrphmp rphmp;nrphmp nrcmp;phos pcmp;rpm pcmp k;rpm rphmp;rbind rmf;pp phos;pp pmod;rphos phos k;rphos rpm;nrpm pcmp R;nrpm rpm;nrpm nrphmp;rpb rbind;prbind rbind;prbind prmf;rpp pp k;rpp rphos;rpp rpmod;nrphos phos R;nrphos rphos;nrphos nrpm;rka rphos;rka rta;prpb rpb;prpb prbind;nrpp pp R;nrpp rpp;nrpp nrphos;nrpp nrpmod;rpka rka;rpka rpp;nrka rka;nrka nrta;rpstka rpka;nrpka rpka;nrpka nrka;nrpka nrpp;rmapk rpstka;breg bp;nrbpr bp R;nrbpr rbpr;nrdp nrbpr;nrdp rdp;nrdp dp R;"+
"dp bp;cp bp;loc bp;rbpr bp k;rbpr breg;cdp cp;cdp dp;rdp dp k;rdp rbpr;rcpr cp k;rcpr rbpr;celld cdp;rloc loc k;rloc rbpr;nrcpr cp R;nrcpr rcpr;nrcpr nrbpr;rcd celld k;rcd rcpr;rcd rdp;fcd celld;rtr rloc;nrcd celld R;nrcd rcd;nrcd nrdp;nrcd nrcpr;rfcd fcd k;rfcd rcd;rtmt rtr;rtmt tmt k;nrmf rmf;nrmf nrbpr;pmsp pmod;prmf rmf;prmf prbp;rmf rbpr;rcat rmf;nrfcd fcd R;nrfcd rfcd;nrfcd nrcd;nrcat nrmf;nrcat rcat;pmspc pmsp;rpmsp pmsp k;rpmsp rpmod;rta rcat;prcat rcat;prcat prmf;nrta nrcat;nrta rta;pu pmspc;prpmsp pmsp G;prpmsp rpmsp;prpmsp prpmod;prta prcat;prta rta;rpu pu k;rpu rpmsp;prpu pu G;prpu rpu;prpu prpmsp;rupta rta;prupta rupta;prupta prpu;prupta prta;"+
"rs bp;eloc loc;ccom cp;cdeath cp;crs rs;crs cp;rstr rs;trans eloc;sig ccom;pcd cdeath;crstr crs;crstr rstr;res rs;tmt trans;ost trans;st ccom B;st sig B;st crs B;st cp;ap pcd;rh res;cres res;cres crs;ct ost;ist st;asp ap B;asp st;crh rh;crh cres;ctt ct;ctt tmt;iasp asp;iasp ist;rers rstr;mtt ctt;iasper iasp;iasper rers;htt mtt;gtt htt;rgtt gtt k;rgtt rtmt;"+
"rchem rs;ros rchem;crcs rchem;crcs crs;rnc rchem;roc rchem;cros ros;cros crcs;crnc rnc;crnc crcs;ronc rnc;ronc ros;croc roc;croc crcs;cronc crnc;cronc ronc;cronc cros;rpep ronc;rpep roc;crpep cronc;crpep rpep;crpep croc;rph rh;rph rpep;rins rph;crph rph;crph crh;crph crpep;crins rins;crins crph";
var col={g:"#bdbdbd",k:"#000",G:"#228B22",R:"#B22222",B:"#0000FF"};
var svg=document.getElementById("s");
/* shrink any overflowing labels */
var ns=document.querySelectorAll(".n");
for(var i=0;i<ns.length;i++){var e=ns[i],fs=parseFloat(getComputedStyle(e).fontSize),ls=parseFloat(getComputedStyle(e).letterSpacing)||0,k=0;
 while((e.scrollWidth>e.clientWidth||e.scrollHeight>e.clientHeight)&&k<12){if(ls>-0.4){ls-=0.2;e.style.letterSpacing=ls+"px";}else{fs-=0.4;e.style.fontSize=fs+"px";e.style.lineHeight=(fs*1.4)+"px";}k++;}}
function r(id){var e=document.getElementById(id);if(!e)return null;return{x:e.offsetLeft,y:e.offsetTop,w:e.offsetWidth,h:e.offsetHeight};}
function cl(v,a,b){return Math.max(a,Math.min(b,v));}
var layers={g:"",o:""};
E.split(";").forEach(function(s){
 var p=s.trim().split(/\s+/);if(p.length<2)return;
 var a=r(p[0]),b=r(p[1]);if(!a||!b)return;
 var c=p[2]||"g",cc=col[c];
 var acx=a.x+a.w/2,bcx=b.x+b.w/2;
 var sx=acx+cl((bcx-acx)*0.15,-a.w/3,a.w/3);
 var sy=a.y;
 var ex=bcx+cl((acx-bcx)*0.15,-b.w/3,b.w/3);
 var ey=b.y+b.h;
 var dy=ey-sy;
 var c1y=cl(sy-Math.min(40,Math.abs(dy)/2),2,1176),c2y=cl(ey+Math.min(40,Math.abs(dy)/2),2,1176);
 var tx=(ex-sx)*0.25, ty=ey-c2y; var L=Math.sqrt(tx*tx+ty*ty)||1; var ux=tx/L,uy=ty/L;
 var al=8,aw=3.5;
 var bx=ex-ux*al,by=ey-uy*al;
 var d="M"+sx.toFixed(1)+","+sy+" C"+sx.toFixed(1)+","+c1y+" "+cl(bx-ux*10,0,7680).toFixed(1)+","+c2y.toFixed(1)+" "+bx.toFixed(1)+","+by.toFixed(1);
 var pts=ex.toFixed(1)+","+ey+" "+(bx-uy*aw).toFixed(1)+","+(by+ux*aw).toFixed(1)+" "+(bx+uy*aw).toFixed(1)+","+(by-ux*aw).toFixed(1);
 var str='<path d="'+d+'" fill="none" stroke="'+cc+'" stroke-width="1"/><polygon points="'+pts+'" fill="'+cc+'" stroke="'+cc+'"/>';
 if(c==="g")layers.g+=str;else layers.o+=str;
});
svg.innerHTML=layers.g+layers.o;
/* fit to viewport if it differs from 7680x1178 */
var vw=window.innerWidth,vh=window.innerHeight,w=document.getElementById("w");
if(vw>0&&vh>0&&(Math.abs(vw-7680)>2||Math.abs(vh-1178)>2)){
 var sx=vw/7680,sy=vh/1178;
 w.style.transform="scale("+sx+","+sy+")";
 document.body.style.width=vw+"px";document.body.style.height=vh+"px";
}else{document.body.style.width="7680px";document.body.style.height="1178px";}
})();
</script>
</body></html>
